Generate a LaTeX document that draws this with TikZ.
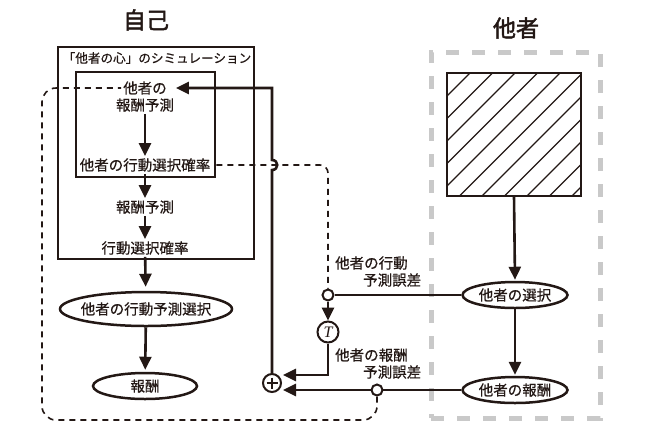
\documentclass[tikz,border=0pt]{standalone}
\usepackage{fontspec}
\setmainfont[FakeBold=0.6]{Noto Sans CJK JP}
\newfontfamily\cjkb[FakeBold=2]{Noto Sans CJK JP}
\newfontfamily\tfont{Liberation Serif}
\usetikzlibrary{arrows.meta,shapes.geometric}
\definecolor{ink}{RGB}{35,24,21}
\definecolor{lgray}{RGB}{201,201,201}
\begin{document}
\begin{tikzpicture}[x=1pt,y=-1pt, color=ink,
  lbl/.style={font=\fontsize{14.5}{17}\selectfont, inner sep=2pt, text=ink},
  ttl/.style={font=\cjkb\fontsize{23}{26}\selectfont, inner sep=0pt, text=ink},
  arr/.style={line width=2.6pt,-{Triangle[length=13pt,width=12pt]}},
  ln/.style={line width=2.6pt},
  dsh/.style={line width=1.6pt, dash pattern=on 6pt off 5pt},
  boxframe/.style={draw=ink, line width=2.8pt, inner sep=0pt},
  ell/.style={ellipse, draw=ink, line width=2.5pt, inner sep=0pt, fill=white},
  smallc/.style={circle, draw=ink, line width=2pt, fill=white, minimum size=11pt, inner sep=0pt}]
\useasboundingbox (0,0) rectangle (660,440);

% titles
\node[ttl] (tself) at (146,20) {自己};
\node[ttl] (tother) at (516,28) {他者};

% self boxes
\node[boxframe, minimum width=196pt, minimum height=212pt] (self) at (156,153) {};
\node[lbl, font=\fontsize{12.6}{15}\selectfont] (sim) at (157,58) {「他者の心」のシミュレーション};
\node[boxframe, minimum width=139pt, minimum height=105pt] (inner) at (145.5,124.5) {};

\node[lbl] (ta) at (145,88) {他者の};
\node[lbl] (n1) at (145,105) {報酬予測};
\node[lbl] (n2) at (145,165) {他者の行動選択確率};
\node[lbl] (n3) at (145,207) {報酬予測};
\node[lbl] (n4) at (145,248) {行動選択確率};
\node[ell, minimum width=172pt, minimum height=34pt,
      label={[lbl]center:他者の行動予測選択}] (e1) at (146,309) {};
\node[ell, minimum width=104pt, minimum height=26pt,
      label={[lbl]center:報酬}] (e2) at (145,386) {};

\draw[arr] (n1) -- (n2);
\draw[arr] (n2) -- (n3);
\draw[arr] (n3) -- (n4);
\draw[arr, shorten >=4pt] (n4) -- (e1);
\draw[arr, shorten >=2pt] (e1) -- (e2);

% other box
\node[draw=lgray, line width=5pt, dash pattern=on 13pt off 13pt,
      minimum width=169pt, minimum height=366pt, inner sep=0pt] (other) at (515.5,235) {};
\node[minimum width=134pt, minimum height=123pt, inner sep=0pt] (hs) at (514,134.5) {};
\begin{scope}
  \clip (hs.south west) rectangle (hs.north east);
  \foreach \c in {543,565.5,...,790} \draw[line width=1.2pt] (\c-300,300) -- (\c,0);
\end{scope}
\node[boxframe, minimum width=134pt, minimum height=123pt] at (hs) {};

\node[ell, minimum width=105pt, minimum height=26pt,
      label={[lbl]center:他者の選択}] (os) at (515,295) {};
\node[ell, minimum width=105pt, minimum height=26pt,
      label={[lbl]center:他者の報酬}] (or) at (515,390) {};
\draw[arr, shorten >=1pt] (hs.south) -- (os.north);
\draw[arr, shorten >=1pt] (os.south) -- (or.north);

% error computation
\node[smallc] (o1) at (328,295) {};
\node[circle, draw=ink, line width=2pt, fill=white, minimum size=21pt, inner sep=0pt,
      font=\tfont\itshape\fontsize{16}{16}\selectfont, text=ink] (T) at (328,332) {T};
\node[circle, draw=ink, line width=2pt, fill=white, minimum size=18pt, inner sep=0pt] (plus) at (272,383) {};
\draw[line width=2pt] (plus.center) ++(-5.5,0) -- ++(11,0);
\draw[line width=2pt] (plus.center) ++(0,-5.5) -- ++(0,11);
\coordinate (p1) at (283,375);
\coordinate (p2) at (283,390);

\draw[ln] (os.west) -- (o1.east);
\draw[arr] (o1.south) -- (T.north);
\draw[arr] (T.south) |- (p1);
\draw[arr] (or.west) -- (p2);
\node[smallc] (o2) at (377,390) {};

\node[lbl, anchor=west] (l1a) at (333,263) {他者の行動};
\node[lbl, anchor=west] (l1b) at (361,280) {予測誤差};
\node[lbl, anchor=west] (l2a) at (333,355) {他者の報酬};
\node[lbl, anchor=west] (l2b) at (361,372) {予測誤差};

% feedback to other's reward prediction (with hop)
\draw[arr, shorten >=7pt] (plus.north) -- (272,170) .. controls (279,170) and (279,160) .. (272,160) |- (ta.east);

% dashed lines
\draw[dsh, rounded corners=8pt] (inner.east |- n2) -- (328,165) -- (o1.north);
\draw[dsh, rounded corners=14pt] (o2.south) -- (377,420) -- (42,420) -- (42,88) -- (ta.west);
\end{tikzpicture}
\end{document}
